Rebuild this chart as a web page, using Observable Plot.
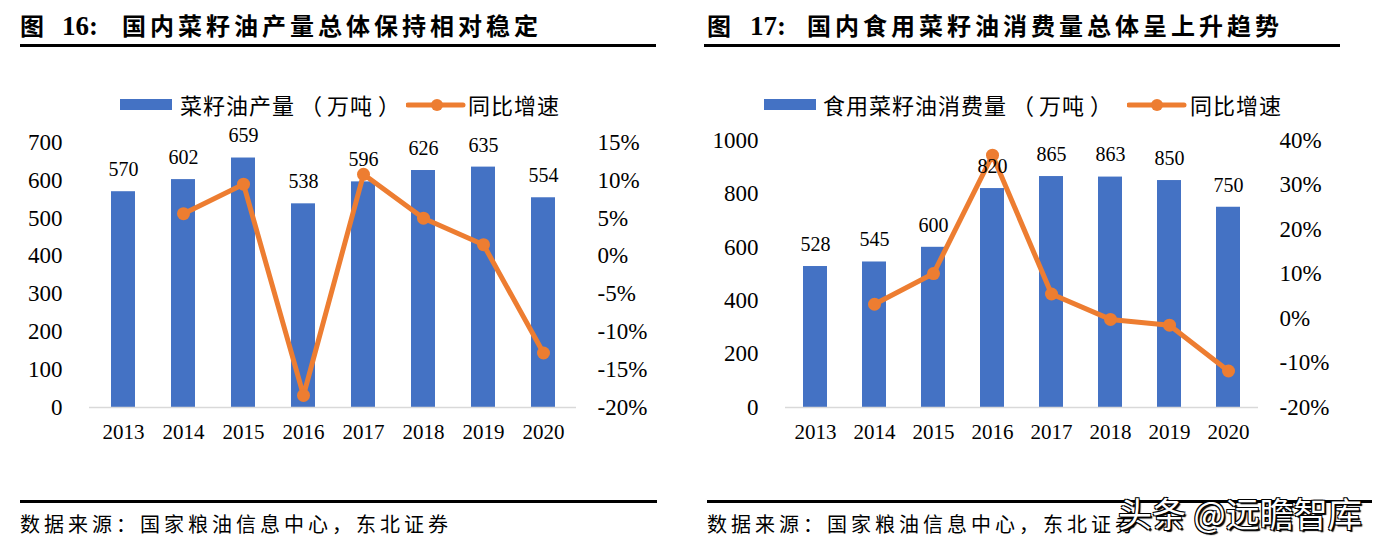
<!DOCTYPE html>
<html><head><meta charset="utf-8">
<script src="https://cdn.jsdelivr.net/npm/d3@7"></script>
<script src="https://cdn.jsdelivr.net/npm/@observablehq/plot@0.6"></script>
<style>
html,body{margin:0;padding:0;background:#fff}
body{width:1388px;height:549px;position:relative;overflow:hidden;font-family:"Liberation Serif",serif;color:#000}
.abs{position:absolute;white-space:nowrap;line-height:1}
.cjkT{font-family:"Noto Sans CJK SC",sans-serif;font-weight:700;font-size:24px;letter-spacing:4px}
.numT{font-family:"Liberation Serif",serif;font-weight:700;font-size:27px}
.rule{position:absolute;background:#000;height:3px}
.leg{font-family:"Noto Sans CJK SC",sans-serif;font-size:22px;letter-spacing:1px}
.pl{margin:0 4px 0 5px}
.pr{margin-left:5px}
.src{font-family:"Noto Sans CJK SC",sans-serif;font-size:20px;letter-spacing:4px}
.wm{font-family:"Noto Sans CJK SC",sans-serif;font-size:34px;color:#fff;
  text-shadow:-1px -1px 0 #000,1px -1px 0 #000,-1px 1px 0 #000,1px 1px 0 #000,2px 2px 1px #000}
.chart{position:absolute;top:120px}
</style></head>
<body>
<!-- titles -->
<div class="abs cjkT" style="left:20px;top:13px">图</div>
<div class="abs numT" style="left:62px;top:13px">16:</div>
<div class="abs cjkT" style="left:122px;top:13px">国内菜籽油产量总体保持相对稳定</div>
<div class="rule" style="left:20px;top:44px;width:636px"></div>

<div class="abs cjkT" style="left:707px;top:13px">图</div>
<div class="abs numT" style="left:750px;top:13px">17:</div>
<div class="abs cjkT" style="left:807px;top:13px">国内食用菜籽油消费量总体呈上升趋势</div>
<div class="rule" style="left:704px;top:44px;width:636px"></div>

<!-- legends -->
<div class="abs" style="left:120px;top:99px;width:52px;height:11px;background:#4472C4"></div>
<div class="abs leg" style="left:180px;top:93px">菜籽油产量<span class="pl">（</span>万吨<span class="pr">）</span></div>
<svg class="abs" style="left:406px;top:97px" width="60" height="16"><line x1="2" y1="8" x2="57" y2="8" stroke="#ED7D31" stroke-width="5" stroke-linecap="round"/><circle cx="31" cy="8" r="6" fill="#ED7D31"/></svg>
<div class="abs leg" style="left:468px;top:93px">同比增速</div>

<div class="abs" style="left:764px;top:99px;width:52px;height:11px;background:#4472C4"></div>
<div class="abs leg" style="left:823px;top:93px">食用菜籽油消费量<span class="pl">（</span>万吨<span class="pr">）</span></div>
<svg class="abs" style="left:1127px;top:97px" width="60" height="16"><line x1="2" y1="8" x2="57" y2="8" stroke="#ED7D31" stroke-width="5" stroke-linecap="round"/><circle cx="30" cy="8" r="6" fill="#ED7D31"/></svg>
<div class="abs leg" style="left:1190px;top:93px">同比增速</div>

<div id="c1" class="chart" style="left:0px"></div>
<div id="c2" class="chart" style="left:694px"></div>

<!-- footers -->
<div class="rule" style="left:20px;top:500px;width:637px"></div>
<div class="rule" style="left:707px;top:500px;width:665px"></div>
<div class="abs src" style="left:20px;top:514px">数据来源：国家粮油信息中心，东北证券</div>
<div class="abs src" style="left:707px;top:514px">数据来源：国家粮油信息中心，东北证券</div>
<div class="abs wm" style="left:1118px;top:496px">头条 @远瞻智库</div>

<script>
// ---- data ----
const years = ["2013","2014","2015","2016","2017","2018","2019","2020"];
const productionValues = [570, 602, 659, 538, 596, 626, 635, 554];
const productionGrowth = [null, 5.6, 9.5, -18.4, 10.8, 5.0, 1.5, -12.8];
const consumptionValues = [528, 545, 600, 820, 865, 863, 850, 750];
const consumptionGrowth = [null, 3.2, 10.1, 36.7, 5.5, -0.2, -1.5, -11.8];
const prodLeftTicks = [0,100,200,300,400,500,600,700];
const prodRightTicks = [-20,-15,-10,-5,0,5,10,15];
const consLeftTicks = [0,200,400,600,800,1000];
const consRightTicks = [-20,-10,0,10,20,30,40];

const BLUE = "#4472C4", ORANGE = "#ED7D31";

function makeChart({values, growth, leftTicks, rightTicks, leftDomain, pctDomain,
                    marginLeft, marginRight, marginTop, marginBottom, width, height}) {
  const data = years.map((y, i) => ({year: y, value: values[i], growth: growth[i]}));
  const pct = d3.scaleLinear().domain(pctDomain).range(leftDomain);
  const lineData = data.filter(d => d.growth != null).map(d => ({...d, g: pct(d.growth)}));
  return Plot.plot({
    width, height, marginLeft, marginRight, marginTop, marginBottom,
    style: {fontFamily: "'Liberation Serif', serif", color: "#000", background: "transparent", overflow: "visible"},
    x: {type: "band", domain: years, paddingInner: 0.6, paddingOuter: 0.3},
    y: {domain: leftDomain},
    marks: [
      Plot.barY(data, {x: "year", y: "value", fill: BLUE}),
      Plot.ruleY([leftDomain[0]], {stroke: "#d9d9d9", strokeWidth: 1.5}),
      Plot.axisX({tickSize: 0, tickPadding: 17, fontSize: 21, label: null}),
      Plot.axisY({ticks: leftTicks, tickSize: 0, tickPadding: 27, fontSize: 23, label: null, anchor: "left",
                  tickFormat: v => String(v)}),
      Plot.axisY({ticks: rightTicks.map(t => pct(t)), tickSize: 0, tickPadding: 21, fontSize: 23, label: null,
                  anchor: "right", tickFormat: v => Math.round(pct.invert(v)) + "%"}),
      Plot.line(lineData, {x: "year", y: "g", stroke: ORANGE, strokeWidth: 5, strokeLinejoin: "round"}),
      Plot.dot(lineData, {x: "year", y: "g", r: 6.5, fill: ORANGE}),
      Plot.text(data, {x: "year", y: "value", text: d => String(d.value), dy: -22, fontSize: 20, fill: "#000"})
    ]
  });
}

document.getElementById("c1").append(makeChart({
  values: productionValues, growth: productionGrowth,
  leftTicks: prodLeftTicks, rightTicks: prodRightTicks,
  leftDomain: [0, 700], pctDomain: [-20, 15],
  width: 694, height: 340, marginLeft: 89, marginRight: 118, marginTop: 22, marginBottom: 53
}));
document.getElementById("c2").append(makeChart({
  values: consumptionValues, growth: consumptionGrowth,
  leftTicks: consLeftTicks, rightTicks: consRightTicks,
  leftDomain: [0, 1000], pctDomain: [-20, 40],
  width: 694, height: 340, marginLeft: 91, marginRight: 130, marginTop: 20, marginBottom: 53
}));
</script>
</body></html>
